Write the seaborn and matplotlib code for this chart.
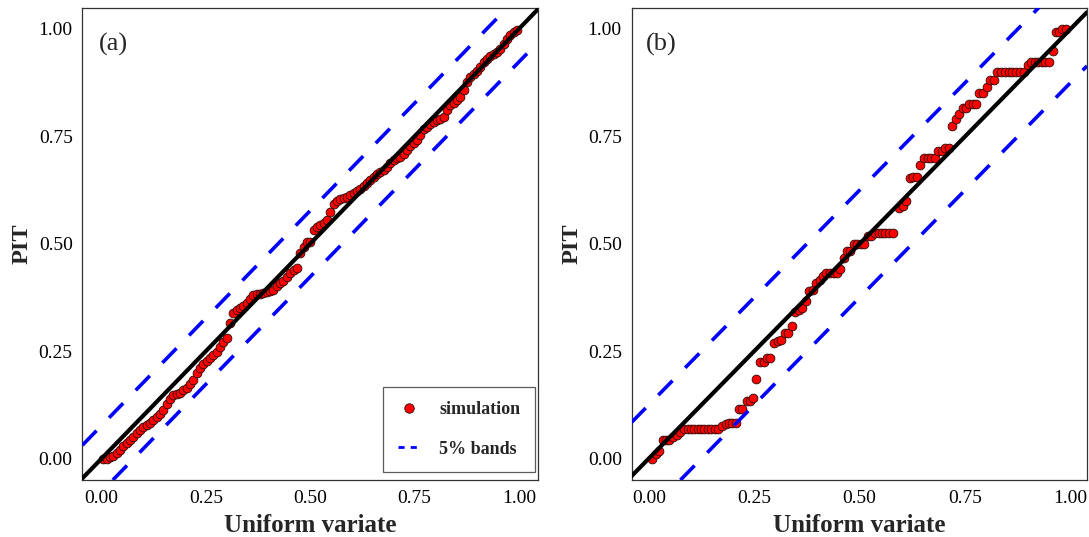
import numpy as np
import pandas as pd
import matplotlib
matplotlib.use("Agg")
import matplotlib.pyplot as plt
from matplotlib.lines import Line2D
import seaborn as sns

# PIT values (sorted), panel (a)
uniform_a = [0.004, 0.012, 0.020, 0.028, 0.036, 0.044, 0.052, 0.060, 0.068, 0.076,
             0.084, 0.092, 0.100, 0.108, 0.116, 0.124, 0.132, 0.140, 0.148, 0.156,
             0.164, 0.172, 0.180, 0.188, 0.196, 0.204, 0.212, 0.220, 0.228, 0.236,
             0.244, 0.252, 0.260, 0.268, 0.276, 0.284, 0.292, 0.300, 0.308, 0.316,
             0.324, 0.332, 0.340, 0.348, 0.356, 0.364, 0.372, 0.380, 0.388, 0.396,
             0.404, 0.412, 0.420, 0.428, 0.436, 0.444, 0.452, 0.460, 0.468, 0.476,
             0.484, 0.492, 0.500, 0.508, 0.516, 0.524, 0.532, 0.540, 0.548, 0.556,
             0.564, 0.572, 0.580, 0.588, 0.596, 0.604, 0.612, 0.620, 0.628, 0.636,
             0.644, 0.652, 0.660, 0.668, 0.676, 0.684, 0.692, 0.700, 0.708, 0.716,
             0.724, 0.732, 0.740, 0.748, 0.756, 0.764, 0.772, 0.780, 0.788, 0.796,
             0.804, 0.812, 0.820, 0.828, 0.836, 0.844, 0.852, 0.860, 0.868, 0.876,
             0.884, 0.892, 0.900, 0.908, 0.916, 0.924, 0.932, 0.940, 0.948, 0.956,
             0.964, 0.972, 0.980, 0.988, 0.996]
pit_a = [0.000, 0.000, 0.003, 0.007, 0.013, 0.020, 0.028, 0.036, 0.044, 0.051,
         0.059, 0.066, 0.073, 0.078, 0.083, 0.090, 0.096, 0.103, 0.114, 0.126,
         0.139, 0.148, 0.150, 0.153, 0.159, 0.164, 0.173, 0.183, 0.199, 0.211,
         0.219, 0.227, 0.234, 0.240, 0.247, 0.260, 0.272, 0.280, 0.315, 0.338,
         0.345, 0.350, 0.356, 0.362, 0.372, 0.381, 0.384, 0.384, 0.385, 0.388,
         0.390, 0.392, 0.401, 0.408, 0.414, 0.422, 0.431, 0.438, 0.444, 0.478,
         0.492, 0.503, 0.505, 0.532, 0.538, 0.544, 0.549, 0.556, 0.575, 0.593,
         0.599, 0.604, 0.606, 0.609, 0.613, 0.618, 0.623, 0.628, 0.634, 0.641,
         0.648, 0.655, 0.662, 0.666, 0.672, 0.679, 0.687, 0.694, 0.700, 0.703,
         0.708, 0.718, 0.727, 0.734, 0.742, 0.754, 0.766, 0.772, 0.778, 0.783,
         0.788, 0.791, 0.794, 0.811, 0.822, 0.828, 0.835, 0.842, 0.858, 0.877,
         0.888, 0.896, 0.903, 0.911, 0.922, 0.931, 0.936, 0.942, 0.947, 0.953,
         0.965, 0.977, 0.986, 0.993, 0.998]

# panel (b)
uniform_b = [0.008, 0.016, 0.025, 0.033, 0.041, 0.049, 0.058, 0.066, 0.074,
             0.084, 0.092, 0.100, 0.108, 0.116, 0.124, 0.132, 0.140, 0.148, 0.156, 0.164,
             0.173, 0.183, 0.190, 0.198, 0.206, 0.214, 0.222, 0.232, 0.240, 0.247,
             0.255, 0.263, 0.272, 0.280, 0.288, 0.298, 0.306, 0.314, 0.323, 0.331,
             0.339, 0.347, 0.355, 0.364, 0.372, 0.380, 0.389, 0.397, 0.405, 0.413,
             0.421, 0.430, 0.438, 0.446, 0.454, 0.462, 0.469, 0.477, 0.486, 0.494,
             0.503, 0.511, 0.520, 0.528, 0.537, 0.545, 0.553, 0.561, 0.569, 0.578,
             0.593, 0.602, 0.610, 0.619, 0.627, 0.635, 0.644, 0.653, 0.661, 0.669,
             0.678, 0.686, 0.695, 0.703, 0.711, 0.719, 0.728, 0.736, 0.744, 0.752,
             0.760, 0.769, 0.777, 0.784, 0.793, 0.802, 0.810, 0.818, 0.826, 0.835,
             0.844, 0.853, 0.862, 0.871, 0.880, 0.889, 0.899, 0.907, 0.915, 0.923,
             0.932, 0.940, 0.948, 0.958, 0.965, 0.973, 0.980, 0.989]
pit_b = [0.000, 0.010, 0.017, 0.044, 0.044, 0.044, 0.050, 0.055, 0.062,
         0.068, 0.068, 0.068, 0.068, 0.068, 0.068, 0.068, 0.068, 0.068, 0.068, 0.068,
         0.075, 0.081, 0.083, 0.083, 0.083, 0.115, 0.115, 0.135, 0.135, 0.141,
         0.184, 0.225, 0.225, 0.233, 0.233, 0.270, 0.274, 0.276, 0.293, 0.293,
         0.308, 0.342, 0.346, 0.350, 0.366, 0.390, 0.393, 0.409, 0.415, 0.424,
         0.431, 0.433, 0.433, 0.433, 0.441, 0.467, 0.483, 0.483, 0.499, 0.499,
         0.499, 0.499, 0.517, 0.517, 0.525, 0.525, 0.525, 0.525, 0.525, 0.525,
         0.584, 0.588, 0.600, 0.652, 0.656, 0.656, 0.684, 0.700, 0.700, 0.700,
         0.700, 0.715, 0.715, 0.723, 0.723, 0.774, 0.791, 0.801, 0.815, 0.815,
         0.825, 0.825, 0.825, 0.850, 0.850, 0.866, 0.882, 0.882, 0.900, 0.900,
         0.900, 0.900, 0.900, 0.900, 0.900, 0.900, 0.916, 0.924, 0.924, 0.924,
         0.924, 0.924, 0.924, 0.948, 0.992, 0.992, 1.000, 1.000]

band_a = 0.077   # half-width of 5% bands
band_b = 0.125
panel_labels = ["(a)", "(b)"]
ticks = [0.0, 0.25, 0.5, 0.75, 1.0]
tick_labels = ["0.00", "0.25", "0.50", "0.75", "1.00"]

sns.set_style("white")
plt.rcParams['font.family'] = ['Liberation Serif', 'DejaVu Serif']

df_a = pd.DataFrame({'u': uniform_a, 'pit': pit_a})
df_b = pd.DataFrame({'u': uniform_b, 'pit': pit_b})

W, H = 1089, 537
fig = plt.figure(figsize=(W / 100, H / 100), dpi=100)
ax_a = fig.add_axes([82.4 / W, 1 - 480 / H, 455.6 / W, 472.5 / H])
ax_b = fig.add_axes([631.5 / W, 1 - 480 / H, 455.5 / W, 472.5 / H])

panels = [(ax_a, df_a, band_a, (-0.046, 1.046)),
          (ax_b, df_b, band_b, (-0.041, 1.039))]

for (ax, df, band, xlim), lab in zip(panels, panel_labels):
    sns.scatterplot(data=df, x='u', y='pit', ax=ax, color='#ff0000',
                    edgecolor='#2a0a0a', linewidth=0.6, s=40, zorder=2, legend=False)
    ax.axline((0, 0), slope=1, color='black', lw=3.0, zorder=3)
    for off in (band, -band):
        ax.axline((0, off), slope=1, color='#0000ff', lw=2.6,
                  dashes=(5.6, 5.0), zorder=3)
    ax.set_xlim(*xlim)
    ax.set_ylim(-0.05, 1.05)
    ax.set_xticks(ticks)
    ax.set_xticklabels(tick_labels)
    ax.set_yticks(ticks)
    ax.set_yticklabels(tick_labels)
    ax.tick_params(axis='both', direction='out', length=4, width=0.9,
                   color='#333333', labelsize=14, labelcolor='black', pad=3)
    for sp in ax.spines.values():
        sp.set_color('#333333')
        sp.set_linewidth(0.9)
    ax.set_xlabel("Uniform variate", fontsize=18, fontweight='bold', labelpad=5)
    ax.set_ylabel("PIT", fontsize=17.5, fontweight='bold', labelpad=4)
    ax.text(0.029, 0.965, lab, fontsize=19, ha='center', va='center')

handles = [Line2D([], [], marker='o', ls='none', markerfacecolor='#ff0000',
                  markeredgecolor='#2a0a0a', markeredgewidth=0.6, markersize=6.8),
           Line2D([], [], color='#0000ff', lw=2.0, dashes=(2.2, 2.2))]
leg = ax_a.legend(handles, ["simulation", "5% bands"], loc='lower right',
                  bbox_to_anchor=(0.993, 0.017), borderaxespad=0,
                  prop={'weight': 'bold', 'size': 13}, frameon=True, fancybox=False,
                  edgecolor='#333333', labelspacing=1.25, handlelength=1.3,
                  handletextpad=1.0, borderpad=0.8)
leg.get_frame().set_linewidth(0.9)

fig.savefig("out.png", dpi=100)
